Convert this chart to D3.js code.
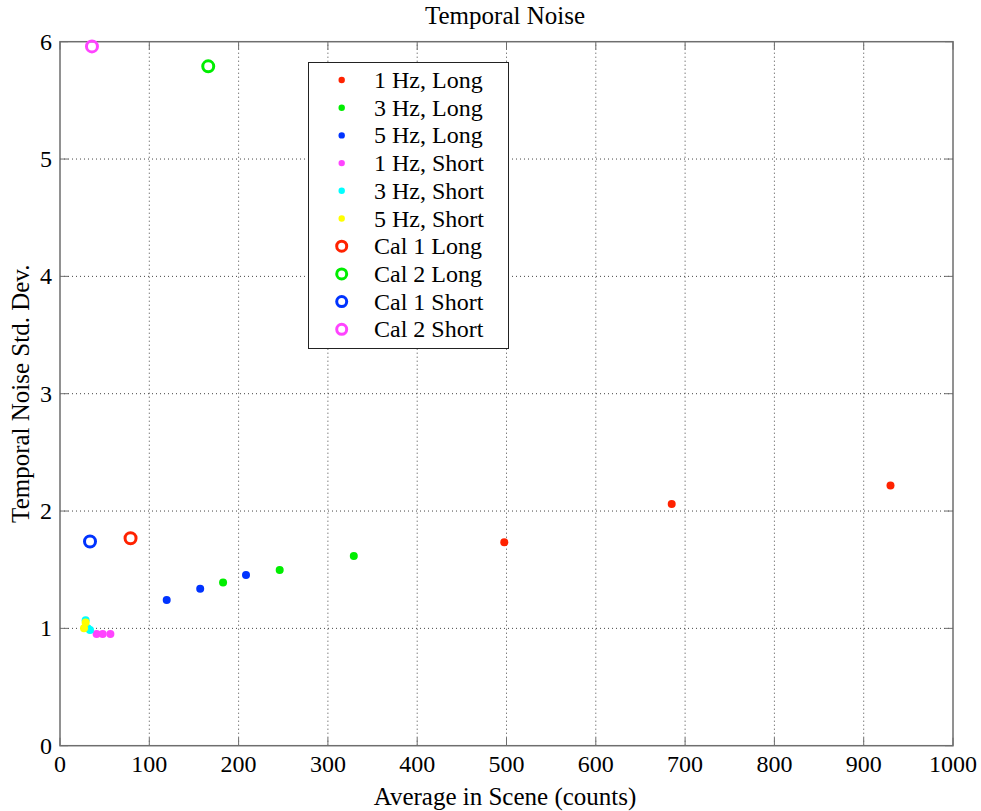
<!DOCTYPE html>
<html><head><meta charset="utf-8">
<script src="https://cdn.jsdelivr.net/npm/d3@7"></script>
<style>body{margin:0;background:#fff}svg{display:block}</style>
</head><body>
<script>
const xTicks=[0,100,200,300,400,500,600,700,800,900,1000];
const yTicks=[0,1,2,3,4,5,6];
const seriesNames=["1 Hz, Long","3 Hz, Long","5 Hz, Long","1 Hz, Short","3 Hz, Short","5 Hz, Short","Cal 1 Long","Cal 2 Long","Cal 1 Short","Cal 2 Short"];
const seriesColors=["#ff2200","#00ee00","#0033ff","#ff44ff","#00ffff","#ffff00","#ff2200","#00ee00","#0033ff","#ff44ff"];
const seriesKind=["dot","dot","dot","dot","dot","dot","ring","ring","ring","ring"];
const hz1LongX=[497.5,685,930], hz1LongY=[1.734,2.06,2.217];
const hz3LongX=[182.6,246,329], hz3LongY=[1.39,1.497,1.617];
const hz5LongX=[119.5,157,208.3], hz5LongY=[1.242,1.338,1.455];
const hz1ShortX=[41,47.8,56.4], hz1ShortY=[0.952,0.952,0.952];
const hz3ShortX=[28.7,33.6,31], hz3ShortY=[1.07,0.986,1.0];
const hz5ShortX=[28.7,26.9], hz5ShortY=[1.05,1.0];
const cal1LongX=[79], cal1LongY=[1.768];
const cal2LongX=[166], cal2LongY=[5.79];
const cal1ShortX=[33.6], cal1ShortY=[1.74];
const cal2ShortX=[35.8], cal2ShortY=[5.96];
const seriesX=[hz1LongX,hz3LongX,hz5LongX,hz1ShortX,hz3ShortX,hz5ShortX,cal1LongX,cal2LongX,cal1ShortX,cal2ShortX];
const seriesY=[hz1LongY,hz3LongY,hz5LongY,hz1ShortY,hz3ShortY,hz5ShortY,cal1LongY,cal2LongY,cal1ShortY,cal2ShortY];

const W=981,H=811;
const svg=d3.select("body").append("svg").attr("width",W).attr("height",H);
const x=d3.scaleLinear().domain([0,1000]).range([60,953]);
const y=d3.scaleLinear().domain([0,6]).range([745.7,41.7]);
const font="Liberation Serif, Times New Roman, serif";
const frame="#6e6e6e";

// grid
const g=svg.append("g");
g.selectAll(".gx").data(xTicks.slice(1,-1)).join("line")
 .attr("x1",d=>x(d)).attr("x2",d=>x(d)).attr("y1",y(0)).attr("y2",y(6))
 .attr("stroke","#444").attr("stroke-dasharray","1,3");
g.selectAll(".gy").data(yTicks.slice(1,-1)).join("line")
 .attr("y1",d=>y(d)).attr("y2",d=>y(d)).attr("x1",x(0)).attr("x2",x(1000))
 .attr("stroke","#444").attr("stroke-dasharray","1,3");

// ticks inside
const tl=8;
xTicks.forEach(t=>{
 g.append("line").attr("x1",x(t)).attr("x2",x(t)).attr("y1",y(0)).attr("y2",y(0)-tl).attr("stroke",frame);
 g.append("line").attr("x1",x(t)).attr("x2",x(t)).attr("y1",y(6)).attr("y2",y(6)+tl).attr("stroke",frame);
});
yTicks.forEach(t=>{
 g.append("line").attr("y1",y(t)).attr("y2",y(t)).attr("x1",x(0)).attr("x2",x(0)+tl).attr("stroke",frame);
 g.append("line").attr("y1",y(t)).attr("y2",y(t)).attr("x1",x(1000)).attr("x2",x(1000)-tl).attr("stroke",frame);
});
// frame
svg.append("rect").attr("x",x(0)).attr("y",y(6)).attr("width",x(1000)-x(0)).attr("height",y(0)-y(6))
 .attr("fill","none").attr("stroke",frame).attr("stroke-width",1.5);

// tick labels
svg.selectAll(".xl").data(xTicks).join("text").attr("x",d=>x(d)).attr("y",y(0)+26)
 .attr("text-anchor","middle").attr("font-family",font).attr("font-size",24).text(d=>d);
svg.selectAll(".yl").data(yTicks).join("text").attr("x",x(0)-8).attr("y",d=>y(d)+8)
 .attr("text-anchor","end").attr("font-family",font).attr("font-size",24).text(d=>d);

// labels
svg.append("text").attr("x",505).attr("y",24).attr("text-anchor","middle")
 .attr("font-family",font).attr("font-size",25).text("Temporal Noise");
svg.append("text").attr("x",505).attr("y",805).attr("text-anchor","middle")
 .attr("font-family",font).attr("font-size",25).text("Average in Scene (counts)");
svg.append("text").attr("transform",`translate(29,${(y(0)+y(6))/2}) rotate(-90)`).attr("text-anchor","middle")
 .attr("font-family",font).attr("font-size",25).text("Temporal Noise Std. Dev.");

// data
seriesNames.forEach((n,i)=>{
 const pts=seriesX[i].map((v,j)=>[v,seriesY[i][j]]);
 const sel=svg.append("g").selectAll("circle").data(pts).join("circle")
  .attr("cx",d=>x(d[0])).attr("cy",d=>y(d[1]));
 if(seriesKind[i]==="dot") sel.attr("r",4).attr("fill",seriesColors[i]);
 else sel.attr("r",5.5).attr("fill","none").attr("stroke",seriesColors[i]).attr("stroke-width",3);
});

// legend
const lg=svg.append("g");
lg.append("rect").attr("x",308.5).attr("y",62.5).attr("width",200).attr("height",286)
 .attr("fill","#fff").attr("stroke","#222").attr("stroke-width",1);
seriesNames.forEach((n,i)=>{
 const cy=80+i*27.7;
 if(seriesKind[i]==="dot") lg.append("circle").attr("cx",341.7).attr("cy",cy).attr("r",3.2).attr("fill",seriesColors[i]);
 else lg.append("circle").attr("cx",341.7).attr("cy",cy).attr("r",5).attr("fill","none").attr("stroke",seriesColors[i]).attr("stroke-width",3);
 lg.append("text").attr("x",374).attr("y",cy+8).attr("font-family",font).attr("font-size",24).text(n);
});
</script>
</body></html>
